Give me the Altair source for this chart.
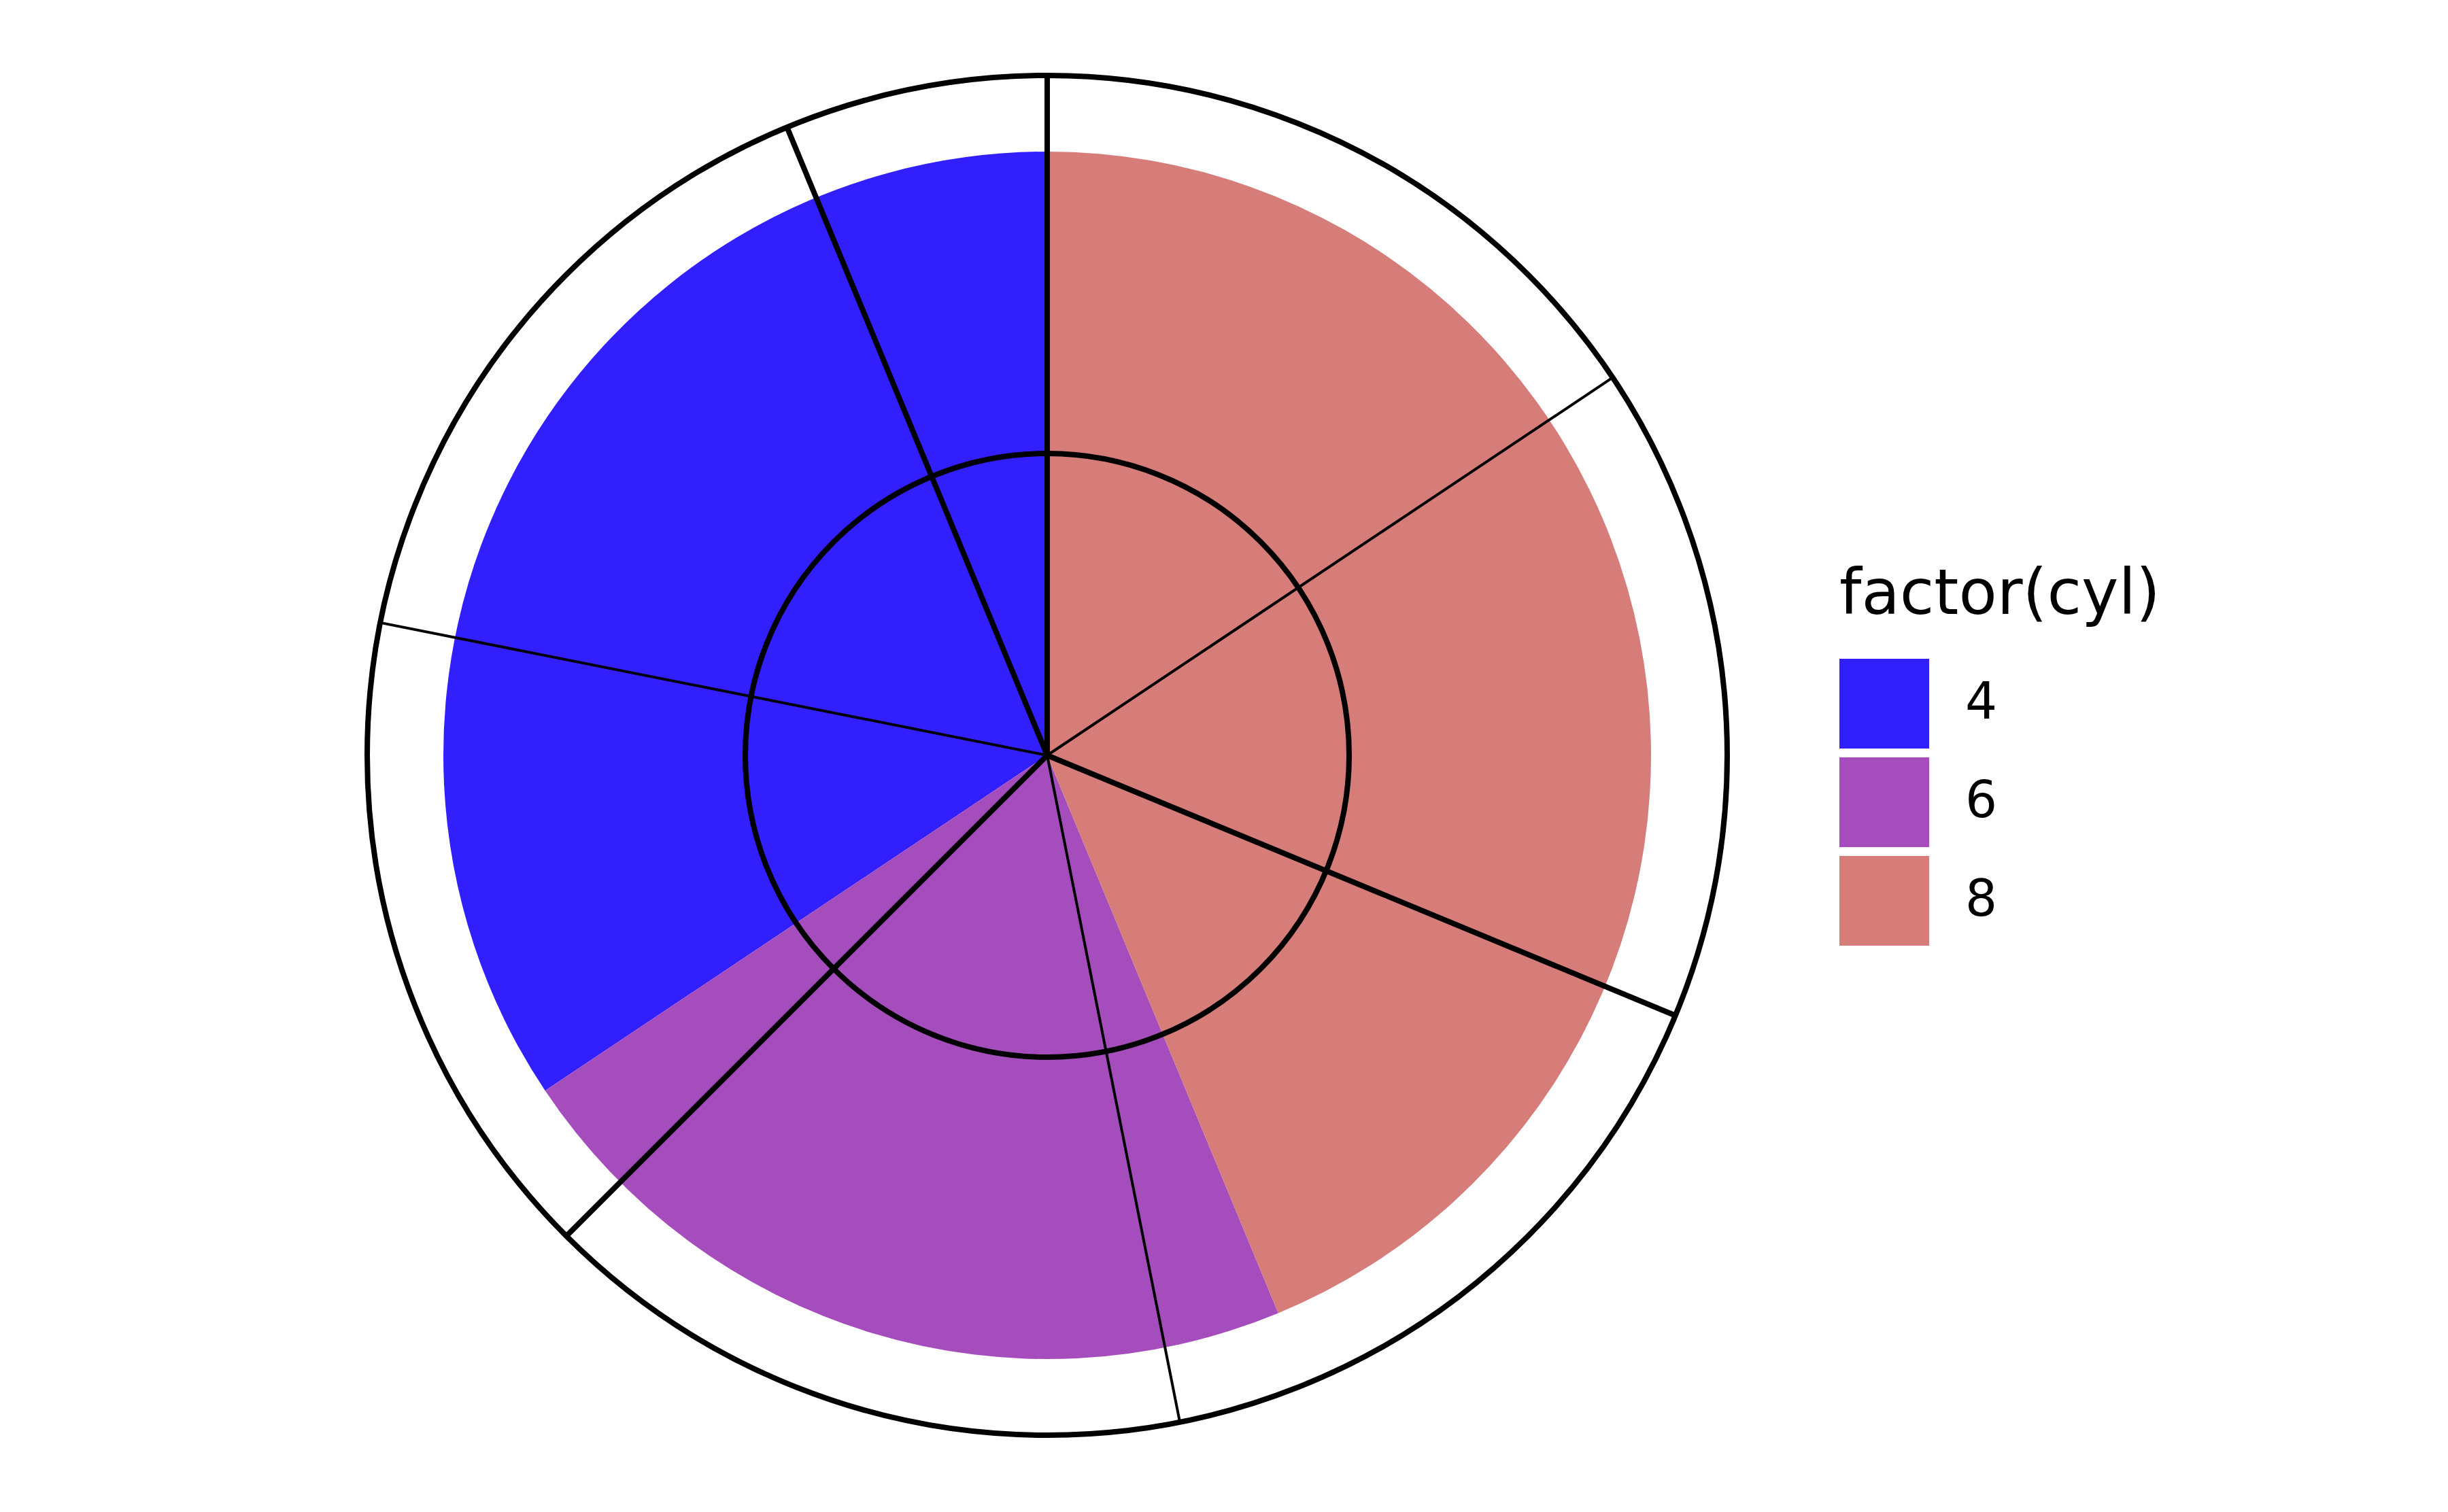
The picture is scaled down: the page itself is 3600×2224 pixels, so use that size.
import math
import altair as alt
import pandas as pd

# data
cyl_levels = ["4", "6", "8"]
cyl_counts = [11, 7, 14]
cyl_colors = ["#321FFE", "#A64DBD", "#D67C79"]

total = 32
major_breaks = [0, 10, 20, 30]
minor_breaks = [5, 15, 25]

pie_df = pd.DataFrame({"cyl": cyl_levels, "n": cyl_counts})
major_df = pd.DataFrame({"t": major_breaks})
minor_df = pd.DataFrame({"t": minor_breaks})
ring_df = pd.DataFrame({"ring": ["inner", "outer"]})

theta_scale = alt.Scale(domain=[0, total], range=[0, 2 * math.pi])

pie = alt.Chart(pie_df).mark_arc(radius=888, strokeWidth=0).encode(
    theta=alt.Theta("n:Q", stack=True, scale=theta_scale),
    color=alt.Color(
        "cyl:N",
        scale=alt.Scale(domain=cyl_levels, range=cyl_colors),
        legend=alt.Legend(
            title="factor(cyl)",
            orient="none",
            legendX=2697,
            legendY=822,
            padding=0,
            titleFont="DejaVu Sans",
            titleFontSize=92,
            titleFontWeight="normal",
            titleColor="#000000",
            titlePadding=47,
            titleLimit=2000,
            labelFont="DejaVu Sans",
            labelFontSize=74,
            labelColor="#000000",
            labelOffset=53,
            labelLimit=1000,
            symbolType="square",
            symbolSize=17424,
            symbolStrokeWidth=0,
            symbolOpacity=1,
            rowPadding=13,
        ),
    ),
    order=alt.Order("cyl:N", sort="descending"),
)

major = alt.Chart(major_df).mark_arc(
    radius=1000, radius2=0, stroke="#000000", strokeWidth=8, fillOpacity=0
).encode(
    theta=alt.Theta("t:Q", stack=False, scale=theta_scale),
    theta2=alt.Theta2("t:Q"),
)

minor = alt.Chart(minor_df).mark_arc(
    radius=1000, radius2=0, stroke="#000000", strokeWidth=4, fillOpacity=0
).encode(
    theta=alt.Theta("t:Q", stack=False, scale=theta_scale),
    theta2=alt.Theta2("t:Q"),
)

inner_ring = alt.Chart(ring_df.iloc[[0]]).mark_arc(
    radius=444, radius2=0, stroke="#000000", strokeWidth=8, fillOpacity=0
).encode(
    theta=alt.value(0),
    theta2=alt.value(2 * math.pi),
)

outer_ring = alt.Chart(ring_df.iloc[[1]]).mark_arc(
    radius=1000, radius2=0, stroke="#000000", strokeWidth=8, fillOpacity=0
).encode(
    theta=alt.value(0),
    theta2=alt.value(2 * math.pi),
)

chart = (
    alt.layer(pie, minor, major, inner_ring, outer_ring)
    .properties(width=3064, height=2206, padding=0, background="#ffffff")
    .configure_view(stroke=None)
)

chart.save("out.html", embed_options={"renderer": "svg", "actions": False})
